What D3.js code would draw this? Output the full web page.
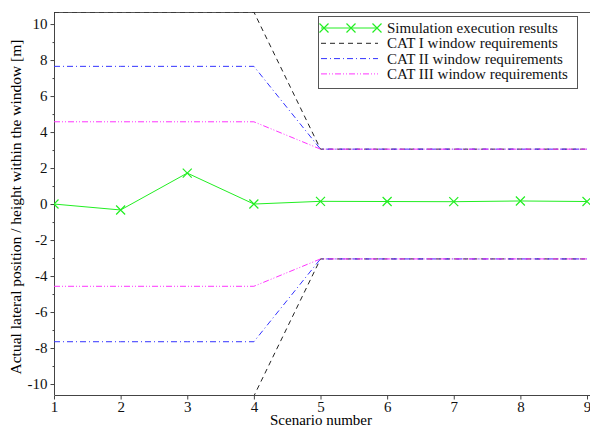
<!DOCTYPE html>
<meta charset="utf-8">
<style>
body { margin: 0; background: #fff; }
svg { display: block; font-family: "Liberation Serif", "DejaVu Serif", serif; }
.axis path, .axis line { stroke: #444; }
.axis text { font-size: 15px; fill: #111; font-family: "Liberation Serif", serif; }
</style>
<svg width="590" height="428"></svg>
<script src="https://cdn.jsdelivr.net/npm/d3@7/dist/d3.min.js"></script>
<script>

// scenario numbers
var scenarios = [1, 2, 3, 4, 5, 6, 7, 8, 9];
// simulated deviation [m]
var simResults = [0, -0.33, 1.72, 0, 0.15, 0.14, 0.13, 0.17, 0.14];
// window half-widths per scenario [m]
var cat1 = [10.67, 10.67, 10.67, 10.67, 3.05, 3.05, 3.05, 3.05, 3.05];
var cat2 = [7.65, 7.65, 7.65, 7.65, 3.05, 3.05, 3.05, 3.05, 3.05];
var cat3 = [4.57, 4.57, 4.57, 4.57, 3.05, 3.05, 3.05, 3.05, 3.05];
var yTicks = [-10, -8, -6, -4, -2, 0, 2, 4, 6, 8, 10];
var legendLabels = ["Simulation execution results", "CAT I window requirements",
                    "CAT II window requirements", "CAT III window requirements"];

var svg = d3.select("svg");
var serif = "'Liberation Serif', 'DejaVu Serif', serif";

var x = d3.scaleLinear().domain([1, 9]).range([54, 587]);
var y = d3.scaleLinear().domain([-10.61, 10.67]).range([395, 12]);

// top border
svg.append("line")
    .attr("x1", 54).attr("x2", 590)
    .attr("y1", 12.5).attr("y2", 12.5)
    .attr("stroke", "#555");

// axes
svg.append("g")
    .attr("class", "axis")
    .attr("transform", "translate(0,395.5)")
    .call(d3.axisBottom(x).tickValues(scenarios).tickSize(4).tickPadding(2)
        .tickFormat(function(d) { return String(d); }))
    .attr("font-family", serif)
    .call(function(g) { g.select(".domain").attr("d", "M54.5,0H590"); });

var yMinor = d3.range(-9, 10, 2);
svg.append("g")
    .attr("class", "axis")
    .attr("transform", "translate(54.5,0)")
    .call(d3.axisLeft(y).tickValues(yMinor).tickSize(2).tickFormat(""))
    .call(function(g) { g.select(".domain").remove(); });

svg.append("g")
    .attr("class", "axis")
    .attr("transform", "translate(54.5,0)")
    .call(d3.axisLeft(y).tickValues(yTicks).tickSize(4).tickPadding(3)
        .tickFormat(function(d) { return String(d); }))
    .attr("font-family", serif)
    .call(function(g) { g.select(".domain").attr("d", "M0,12V395"); });

// axis titles
svg.append("text")
    .attr("x", 321).attr("y", 425)
    .attr("text-anchor", "middle")
    .style("font-size", "15px")
    .text("Scenario number");

svg.append("text")
    .attr("transform", "translate(21,207) rotate(-90)")
    .attr("text-anchor", "middle")
    .style("font-size", "15.5px")
    .text("Actual lateral position / height within the window [m]");

// clip to plot
svg.append("clipPath").attr("id", "plotclip")
  .append("rect").attr("x", 54).attr("y", 12).attr("width", 540).attr("height", 383);

var plot = svg.append("g").attr("clip-path", "url(#plotclip)");

var line = d3.line()
    .x(function(d) { return x(d[0]); })
    .y(function(d) { return y(d[1]); });

var bounds = [
  { vals: cat1, color: "#222", dash: "5,4" },
  { vals: cat2, color: "#3333ff", dash: "6,3,1,3" },
  { vals: cat3, color: "#ff33ff", dash: "6,2,1,2,1,2" }
];

bounds.forEach(function(b) {
  [1, -1].forEach(function(sign) {
    plot.append("path")
        .datum(scenarios.map(function(s, i) { return [s, sign * b.vals[i]]; }))
        .attr("d", line)
        .attr("fill", "none")
        .attr("stroke", b.color)
        .attr("stroke-width", 1)
        .attr("stroke-dasharray", b.dash);
  });
});

var green = "#22ee22";
var simData = scenarios.map(function(s, i) { return [s, simResults[i]]; });

plot.append("path")
    .datum(simData)
    .attr("d", line)
    .attr("fill", "none")
    .attr("stroke", green)
    .attr("stroke-width", 1);

function cross(g, cx, cy, r) {
  g.append("path")
      .attr("d", "M" + (cx - r) + "," + (cy - r) + "L" + (cx + r) + "," + (cy + r) +
                 "M" + (cx - r) + "," + (cy + r) + "L" + (cx + r) + "," + (cy - r))
      .attr("stroke", green)
      .attr("stroke-width", 1.2)
      .attr("fill", "none");
}

simData.forEach(function(d) { cross(plot, x(d[0]), y(d[1]), 4.5); });

// legend
var leg = svg.append("g");
leg.append("rect")
    .attr("x", 318.5).attr("y", 16.5)
    .attr("width", 259).attr("height", 72)
    .attr("fill", "#fff")
    .attr("stroke", "#555");

var legStyles = [
  { color: green, dash: null },
  { color: "#222", dash: "5,4" },
  { color: "#3333ff", dash: "6,3,1,3" },
  { color: "#ff33ff", dash: "6,2,1,2,1,2" }
];

legendLabels.forEach(function(lbl, i) {
  var ly = 28 + i * 15.3;
  leg.append("line")
      .attr("x1", 321).attr("x2", 378)
      .attr("y1", ly).attr("y2", ly)
      .attr("stroke", legStyles[i].color)
      .attr("stroke-dasharray", legStyles[i].dash);
  if (i === 0) {
    [324, 351, 377].forEach(function(cx) { cross(leg, cx, ly, 4.5); });
  }
  leg.append("text")
      .attr("x", 387).attr("y", ly + 5)
      .style("font-size", "15px")
      .attr("fill", "#111")
      .text(lbl);
});

</script>
